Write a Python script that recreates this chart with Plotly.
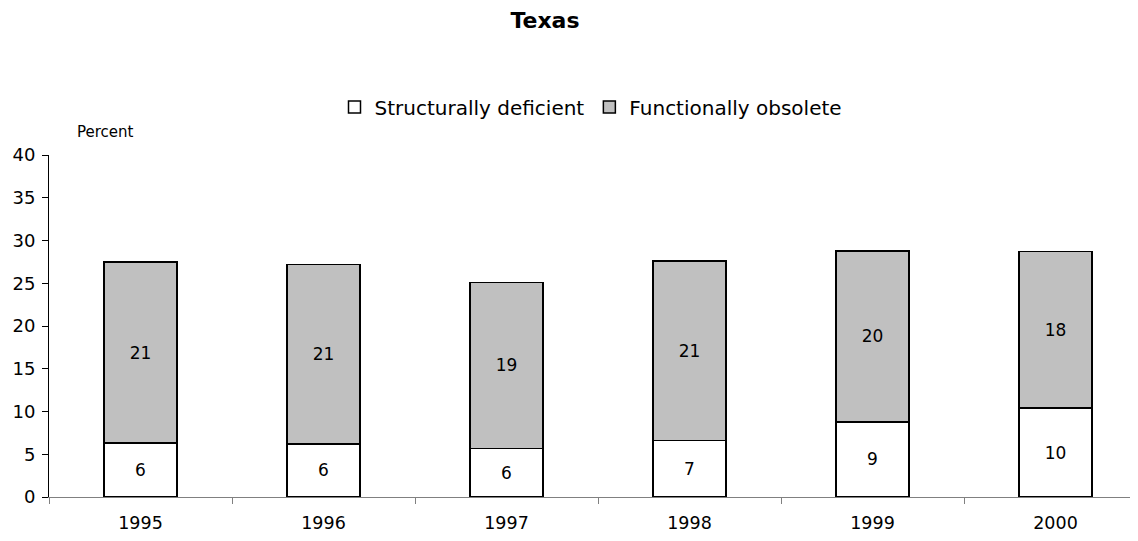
import plotly.graph_objects as go

years = ["1995", "1996", "1997", "1998", "1999", "2000"]
structurally_deficient = [6.3, 6.2, 5.7, 6.6, 8.8, 10.4]
functionally_obsolete = [21.2, 21.0, 19.4, 21.0, 20.0, 18.3]

font_family = "DejaVu Sans"
W, H = 1130, 525

fig = go.Figure()
fig.add_trace(go.Bar(
    name="Structurally deficient", x=years, y=structurally_deficient,
    marker=dict(color="white", line=dict(color="black", width=1.5)),
    width=0.4, text=[f"{v:.0f}" for v in structurally_deficient],
    textposition="inside", insidetextanchor="middle", textangle=0,
    constraintext="none",
    textfont=dict(family=font_family, size=17, color="black"),
))
fig.add_trace(go.Bar(
    name="Functionally obsolete", x=years, y=functionally_obsolete,
    marker=dict(color="#C0C0C0", line=dict(color="black", width=1.5)),
    width=0.4, text=[f"{v:.0f}" for v in functionally_obsolete],
    textposition="inside", insidetextanchor="middle", textangle=0,
    constraintext="none",
    textfont=dict(family=font_family, size=17, color="black"),
))

fig.update_layout(
    barmode="stack",
    width=W, height=H,
    margin=dict(l=41, r=0, t=147, b=34),
    plot_bgcolor="white", paper_bgcolor="white",
    font=dict(family=font_family, size=17, color="black"),
    title=dict(text="<b>Texas</b>", xref="container", x=537 / W, xanchor="center",
               yref="container", y=1 - 12 / H, yanchor="middle",
               font=dict(family=font_family, size=22, color="black")),
    legend=dict(orientation="h", x=(583 - 41) / (W - 41), xanchor="center",
                y=1.14, yanchor="middle",
                traceorder="normal", font=dict(family=font_family, size=20),
                itemwidth=30),
    showlegend=True,
    annotations=[dict(text="Percent", xref="paper", yref="paper", x=0.024, y=1.067,
                      xanchor="left", yanchor="middle", showarrow=False,
                      font=dict(family=font_family, size=15, color="black"))],
)
fig.update_xaxes(
    type="category", range=[-0.5, -0.5 + (W - 41) / 183],
    showline=True, linecolor="#808080", linewidth=1,
    ticks="outside", ticklen=6, tickcolor="#808080", tickson="boundaries",
    ticklabelstandoff=10,
    showgrid=False, tickfont=dict(size=17.5),
)
fig.update_yaxes(
    range=[0, 40], dtick=5,
    showline=True, linecolor="black", linewidth=1,
    ticks="outside", ticklen=6, tickcolor="black",
    ticklabelstandoff=3,
    showgrid=False, zeroline=False, tickfont=dict(size=18),
)

fig.write_html("out.html")
